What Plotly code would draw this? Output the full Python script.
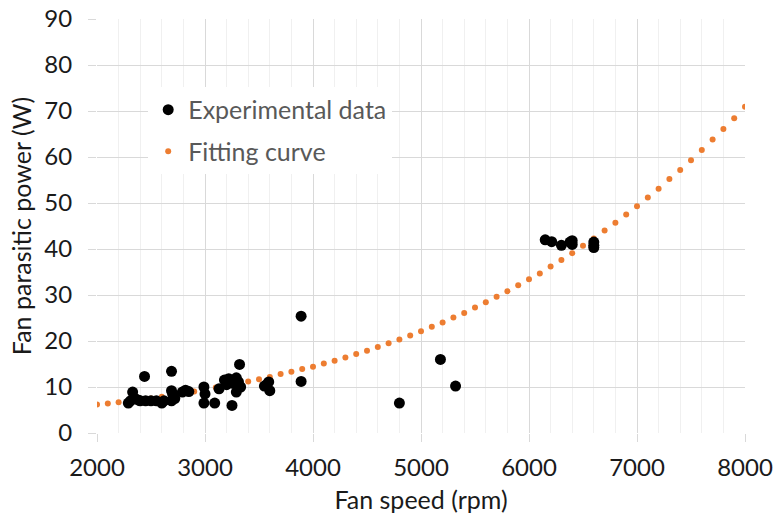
import plotly.graph_objects as go

# Experimental data (rpm, W)
exp_speed = [2290, 2310, 2330, 2350, 2380, 2400, 2440, 2450, 2500, 2550, 2600, 2620,
             2690, 2690, 2690, 2700, 2720, 2790, 2820, 2850, 2990, 2990, 3000, 3090,
             3130, 3180, 3200, 3220, 3250, 3260, 3290, 3290, 3310, 3320, 3330,
             3550, 3570, 3590, 3600, 3890, 3890, 4800, 5180, 5320,
             6150, 6210, 6300, 6380, 6400, 6400, 6600, 6600, 6600]
exp_power = [6.5, 7.0, 8.9, 7.5, 7.2, 7.0, 12.3, 7.0, 7.0, 7.0, 6.5, 7.0,
             13.4, 9.2, 7.0, 8.5, 7.5, 8.9, 9.3, 9.0, 10.0, 6.5, 8.5, 6.5,
             9.6, 11.5, 10.5, 11.8, 6.0, 10.8, 12.0, 8.9, 11.1, 14.9, 10.0,
             10.2, 10.5, 11.1, 9.2, 25.4, 11.2, 6.5, 16.0, 10.2,
             42.0, 41.6, 40.8, 41.5, 41.8, 41.0, 41.5, 40.3, 40.8]

# Fitting curve (rpm, W)
fit_speed = list(range(2000, 8001, 100))
fit_power = [6.2, 6.4, 6.7, 7.0, 7.3, 7.5, 7.9, 8.3, 8.6, 9.0,
             9.4, 9.9, 10.3, 10.7, 11.2, 11.7, 12.2, 12.8, 13.3, 13.9,
             14.4, 15.1, 15.7, 16.4, 17.2, 17.9, 18.7, 19.5, 20.3, 21.2,
             22.1, 23.1, 24.0, 25.1, 26.1, 27.3, 28.4, 29.6, 30.8, 32.1,
             33.4, 34.7, 36.2, 37.6, 39.1, 40.7, 42.3, 44.0, 45.7, 47.5,
             49.3, 51.2, 53.1, 55.2, 57.2, 59.3, 61.5, 63.8, 66.1, 68.4, 70.9]

FONT = "Lato"
TXT = "#1a1a1a"

fig = go.Figure()
fig.add_trace(go.Scatter(
    x=fit_speed, y=fit_power, mode="markers", name="Fitting curve",
    marker=dict(color="#ED7D31", size=6), legendgroup="b", legendrank=2))
fig.add_trace(go.Scatter(
    x=exp_speed, y=exp_power, mode="markers", name="Experimental data",
    marker=dict(color="#000000", size=11), legendgroup="a", legendrank=1))

fig.update_layout(
    width=774, height=515,
    margin=dict(l=97, r=29, t=19, b=82),
    paper_bgcolor="white", plot_bgcolor="white",
    font=dict(family=FONT, size=25, color=TXT),
    legend=dict(x=0.079, y=0.836, xanchor="left", yanchor="top",
                bgcolor="white", font=dict(size=25, color="#595959"),
                tracegroupgap=6, traceorder="grouped"),
    xaxis=dict(range=[2000, 8000], dtick=1000, tick0=2000, automargin=False,
               showgrid=True, gridcolor="#d9d9d9", gridwidth=1,
               ticks="outside", ticklen=8, tickcolor="#d9d9d9",
               ticklabelstandoff=5, ticklabeloverflow="allow",
               minor=dict(dtick=200, showgrid=True, gridcolor="#f0f0f0"),
               zeroline=False, showline=False,
               title=dict(text="Fan speed (rpm)", font=dict(size=25, color=TXT), standoff=11),
               tickfont=dict(size=24, color=TXT)),
    yaxis=dict(range=[0, 90], dtick=10, automargin=False,
               showgrid=True, gridcolor="#d9d9d9", gridwidth=1,
               ticks="outside", ticklen=8, tickcolor="#d9d9d9",
               ticklabelstandoff=11, ticklabeloverflow="allow",
               zeroline=False, showline=False,
               title=dict(text="Fan parasitic power (W)", font=dict(size=25, color=TXT), standoff=5),
               tickfont=dict(size=24, color=TXT)),
)

fig.write_html("out.html", config={"displayModeBar": False},
               post_script="document.body.style.margin='0';")
